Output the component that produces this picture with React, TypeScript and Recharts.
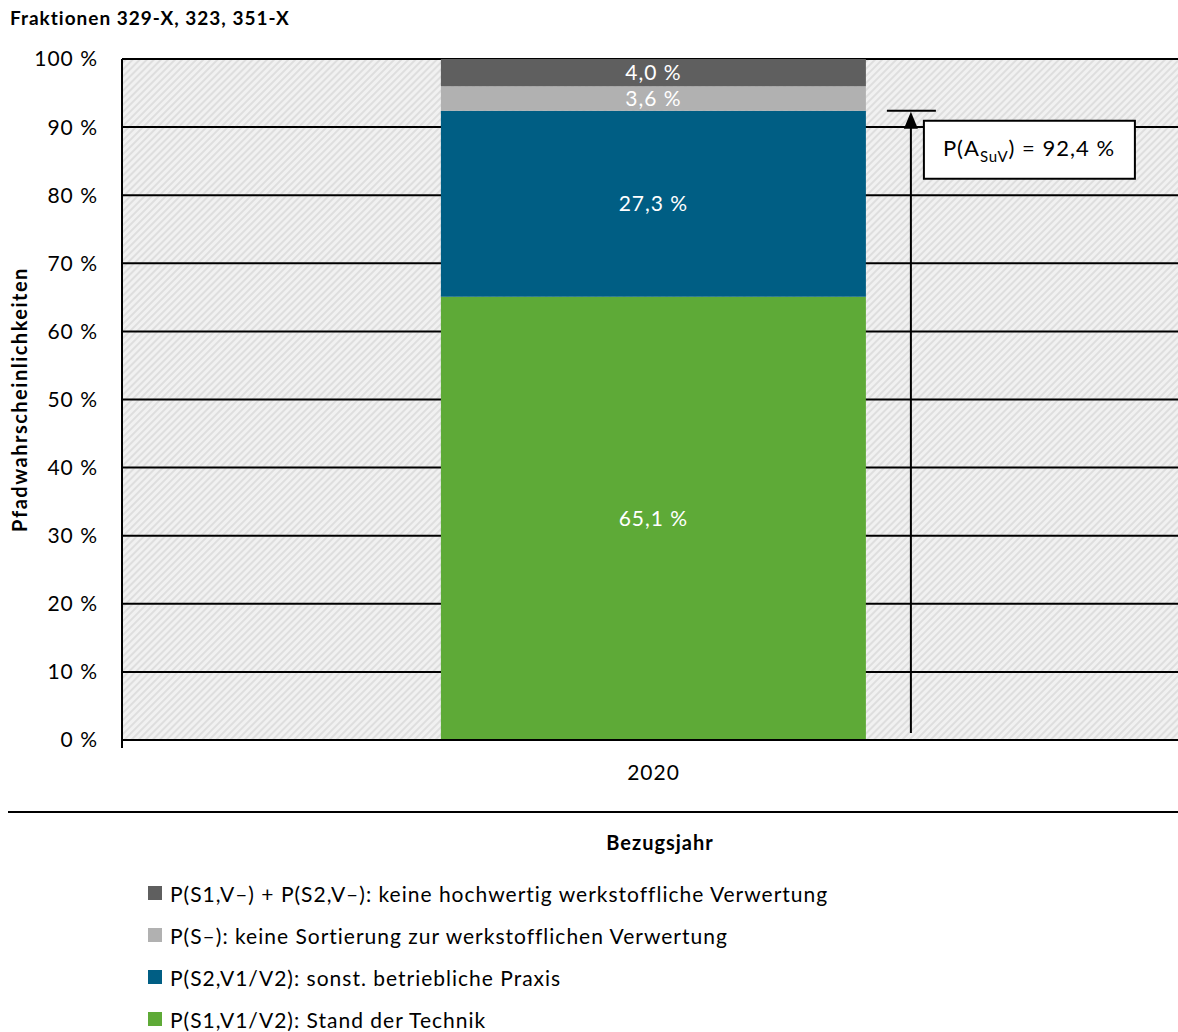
import React from "react";
import {
  BarChart,
  Bar,
  XAxis,
  YAxis,
  CartesianGrid,
  Legend,
  LabelList,
} from "recharts";

const categories = ["2020"];
const standDerTechnik = [65.1];
const betrieblichePraxis = [27.3];
const keineSortierung = [3.6];
const keineVerwertung = [4.0];
const yTicks = [0, 10, 20, 30, 40, 50, 60, 70, 80, 90, 100];

const series = [
  { key: "s1", name: "P(S1,V1/V2): Stand der Technik", color: "#5eaa37" },
  { key: "s2", name: "P(S2,V1/V2): sonst. betriebliche Praxis", color: "#005e84" },
  { key: "sm", name: "P(S–): keine Sortierung zur werkstofflichen Verwertung", color: "#b1b1b1" },
  { key: "vm", name: "P(S1,V–) + P(S2,V–): keine hochwertig werkstoffliche Verwertung", color: "#5f5f5f" },
];

const data = categories.map((year, i) => ({
  year,
  s1: standDerTechnik[i],
  s2: betrieblichePraxis[i],
  sm: keineSortierung[i],
  vm: keineVerwertung[i],
}));

const fmt = (v: number) => v.toFixed(1).replace(".", ",") + " %";
const FONT = "Lato, 'Open Sans', sans-serif";

// arrow + box showing P(A_SuV) = S1 + S2
const renderAnnotation = (props: any) => {
  const x = Number(props.x);
  const y = Number(props.y);
  const width = Number(props.width);
  const height = Number(props.height);
  const i = props.index ?? 0;
  const px = height / betrieblichePraxis[i];
  const base = y + height + standDerTechnik[i] * px;
  const total = standDerTechnik[i] + betrieblichePraxis[i];
  const ax = x + width + 45;
  const bx = ax + 13;
  const by = y + 10;
  return (
    <g>
      <line x1={ax} y1={base - 7} x2={ax} y2={y + 10} stroke="#000" strokeWidth={2} />
      <polygon points={`${ax},${y + 1} ${ax - 7},${y + 18} ${ax + 7},${y + 18}`} fill="#000" />
      <line x1={ax - 24} x2={ax + 25} y1={y} y2={y} stroke="#000" strokeWidth={2} />
      <rect x={bx} y={by} width={211} height={58} fill="#fff" stroke="#000" strokeWidth={2} />
      <text x={bx + 19} y={by + 35} fontSize={22} fill="#000" fontFamily={FONT} style={{ letterSpacing: 1 }}>
        P(A
        <tspan fontSize={15} dy={6}>SuV</tspan>
        <tspan dy={-6}>) = {fmt(total)}</tspan>
      </text>
    </g>
  );
};

const renderValue = (props: any) => {
  const x = Number(props.x);
  const y = Number(props.y);
  const width = Number(props.width);
  const height = Number(props.height);
  return (
    <text
      x={x + width / 2}
      y={y + height / 2}
      dy="0.35em"
      textAnchor="middle"
      fill="#fff"
      fontSize={21}
      fontFamily={FONT}
      style={{ letterSpacing: 1 }}
    >
      {fmt(Number(props.value))}
    </text>
  );
};

const renderXLabel = (props: any) => {
  const vb = props.viewBox || {};
  const x = Number(vb.x);
  const y = Number(vb.y);
  return (
    <g>
      <line x1={x} x2={x} y1={y} y2={y + 8} stroke="#000" strokeWidth={2} />
      <line x1={8} x2={1178} y1={y + 72} y2={y + 72} stroke="#000" strokeWidth={2} />
      <text x={660} y={y + 110} textAnchor="middle" fontSize={20} fontWeight="bold" fill="#000" fontFamily={FONT} style={{ letterSpacing: 1 }}>
        Bezugsjahr
      </text>
    </g>
  );
};

const renderYLabel = (props: any) => {
  const vb = props.viewBox || {};
  const cy = Number(vb.y) + Number(vb.height) / 2;
  return (
    <text
      x={0}
      y={0}
      transform={`translate(27, ${cy}) rotate(-90)`}
      textAnchor="middle"
      fontSize={20}
      fontWeight="bold"
      fill="#000"
      fontFamily={FONT}
      style={{ letterSpacing: 1.5 }}
    >
      Pfadwahrscheinlichkeiten
    </text>
  );
};

const renderLegend = () => (
  <div style={{ fontFamily: FONT, fontSize: 21, letterSpacing: 1, color: "#000" }}>
    {[...series].reverse().map((s) => (
      <div key={s.key} style={{ display: "flex", alignItems: "center", height: 42 }}>
        <span style={{ display: "inline-block", width: 14, height: 14, background: s.color, marginRight: 8 }} />
        <span>{s.name}</span>
      </div>
    ))}
  </div>
);

export default function App() {
  return (
    <div style={{ position: "absolute", left: 0, top: 0, width: 1178, height: 1032, overflow: "hidden", background: "#fff", fontFamily: FONT }}>
      <BarChart
        width={1190}
        height={1032}
        data={data}
        margin={{ top: 59, right: 5, left: 0, bottom: 182 }}
        barCategoryGap="30%"
      >
        <defs>
          <pattern id="hatch" patternUnits="userSpaceOnUse" width="5" height="5" patternTransform="rotate(45)">
            <rect width="5" height="5" fill="#f1f1f1" />
            <line x1="1" y1="0" x2="1" y2="5" stroke="#dadada" strokeWidth="1.6" />
          </pattern>
        </defs>
        <CartesianGrid vertical={false} stroke="#000" strokeWidth={2} fill="url(#hatch)" fillOpacity={1} />
        <XAxis
          dataKey="year"
          height={110}
          tickLine={false}
          tickSize={0}
          tickMargin={25}
          axisLine={{ stroke: "#000", strokeWidth: 2 }}
          tick={{ fill: "#000", fontSize: 21, fontFamily: FONT, letterSpacing: 1 }}
          label={{ content: renderXLabel }}
        />
        <YAxis
          width={122}
          domain={[0, 100]}
          ticks={yTicks}
          tickFormatter={(v: number) => `${v} %`}
          tickLine={false}
          tickSize={0}
          tickMargin={24}
          axisLine={{ stroke: "#000", strokeWidth: 2 }}
          tick={{ fill: "#000", fontSize: 21, fontFamily: FONT, letterSpacing: 1 }}
          label={{ content: renderYLabel }}
        />
        <Legend
          layout="vertical"
          align="center"
          verticalAlign="middle"
          content={renderLegend}
          wrapperStyle={{ position: "absolute", top: 872, left: 148, width: 1000, height: 168 }}
        />
        {series.map((s) => (
          <Bar key={s.key} dataKey={s.key} name={s.name} stackId="a" fill={s.color} isAnimationActive={false}>
            <LabelList dataKey={s.key} content={renderValue} />
            {s.key === "s2" ? <LabelList dataKey="s2" content={renderAnnotation} /> : null}
          </Bar>
        ))}
      </BarChart>
      <div style={{ position: "absolute", left: 10, top: 6, fontSize: 19, fontWeight: "bold", letterSpacing: 1, color: "#000" }}>
        Fraktionen 329-X, 323, 351-X
      </div>
    </div>
  );
}
